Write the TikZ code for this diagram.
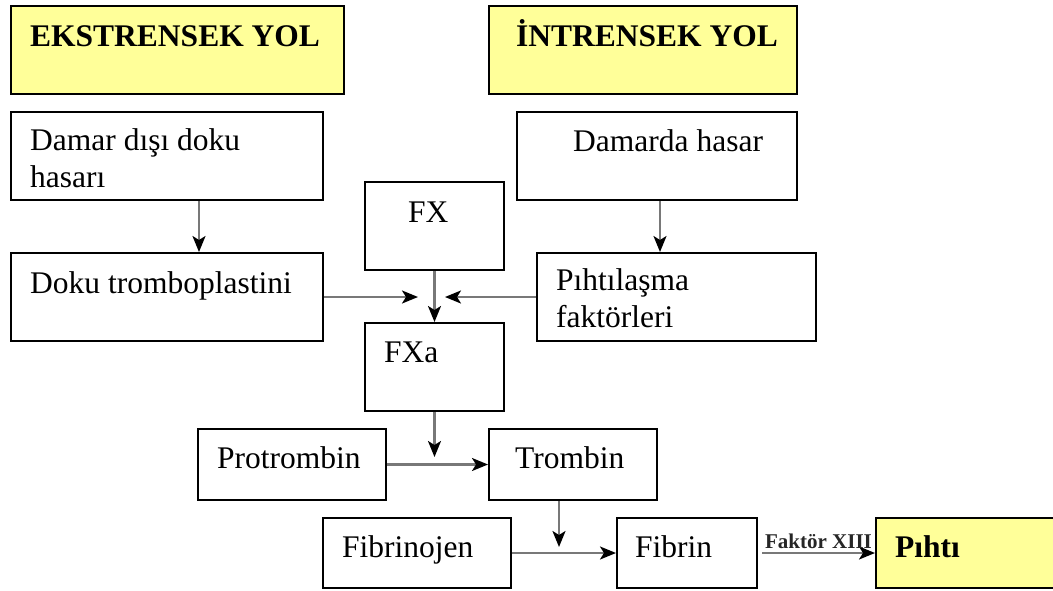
\documentclass[tikz,border=0pt]{standalone}
\usepackage{fontspec}
\setmainfont{Liberation Serif}
\usetikzlibrary{arrows.meta}
\definecolor{boxyellow}{RGB}{255,255,153}
\definecolor{linegray}{RGB}{120,120,120}
\tikzset{
  box/.style={draw=black, line width=2pt, rectangle, anchor=north west, inner sep=0pt},
  ybox/.style={box, fill=boxyellow},
  txt/.style={anchor=base west, inner sep=0pt, font=\fontsize{31.5}{37}\selectfont, align=left},
  ttl/.style={anchor=base west, inner sep=0pt, font=\fontsize{31.5}{36}\selectfont\bfseries},
  arr/.style={draw=linegray, line width=2.2pt, -{Stealth[length=16pt,width=13pt,inset=4pt,color=black]}},
}
\begin{document}
\begin{tikzpicture}[x=1pt,y=-1pt]
\useasboundingbox (0,0) rectangle (1053,590);
% boxes
\node[ybox, minimum width=333pt, minimum height=88pt] (ek) at (10,5) {};
\node[ybox, minimum width=308pt, minimum height=88pt] (in) at (488,5) {};
\node[box, minimum width=312pt, minimum height=88pt] (dd) at (10,111) {};
\node[box, minimum width=280pt, minimum height=88pt] (dh) at (516,111) {};
\node[box, minimum width=139pt, minimum height=88pt] (fx) at (364,181) {};
\node[box, minimum width=312pt, minimum height=88pt] (dt) at (10,252) {};
\node[box, minimum width=279pt, minimum height=88pt] (pf) at (536,252) {};
\node[box, minimum width=139pt, minimum height=88pt] (fxa) at (364,322) {};
\node[box, minimum width=188pt, minimum height=71pt] (pr) at (197,428) {};
\node[box, minimum width=168pt, minimum height=71pt] (tr) at (488,428) {};
\node[box, minimum width=188pt, minimum height=70pt] (fj) at (322,517) {};
\node[box, minimum width=140pt, minimum height=70pt] (fb) at (616,517) {};
\node[ybox, minimum width=190pt, minimum height=70pt] (ph) at (875,517) {};
% texts
\node[ttl] (ekt) at (30,46) {EKSTRENSEK YOL};
\node[ttl] (int) at (516,46) {İNTRENSEK YOL};
\node[txt] (ddt) at (30,187) {Damar dışı doku\\hasarı};
\node[txt] (dht) at (573,151) {Damarda hasar};
\node[txt] (fxt) at (408,222) {FX};
\node[txt] (dtt) at (30,293) {Doku tromboplastini};
\node[txt] (pft) at (556,327) {Pıhtılaşma\\faktörleri};
\node[txt] (fxat) at (384,362) {FXa};
\node[txt] (prt) at (217,468) {Protrombin};
\node[txt] (trt) at (515,468) {Trombin};
\node[txt] (fjt) at (342,557) {Fibrinojen};
\node[txt] (fbt) at (635,557) {Fibrin};
\node[ttl] (pht) at (895,557) {Pıhtı};
% helper coordinates
\coordinate (xa) at (199,0);
\coordinate (xb) at (660,0);
\coordinate (jl) at (418,0);
\coordinate (jr) at (445,0);
\coordinate (xc) at (559,547);
\coordinate (fxaend) at (0,457);
% connectors
\draw[arr] (dd.south -| xa) -- (dt.north -| xa);
\draw[arr] (dh.south -| xb) -- (pf.north -| xb);
\draw[arr] (dt.east) -- (dt.east -| jl);
\draw[arr] (pf.west) -- (pf.west -| jr);
\draw[arr] (fx.south) -- (fxa.north);
\draw[arr] (fxa.south) -- (fxa.south |- fxaend);
\draw[arr] (pr.east) -- (tr.west);
\draw[arr] (tr.south -| xc) -- (xc);
\draw[arr] (fj.east) -- (fb.west);
\draw[arr] ([xshift=4pt]fb.east) -- node[above=3pt, inner sep=0pt, font=\fontsize{21}{23}\selectfont\bfseries, text=black!85] (fxiii) {Faktör XIII} (ph.west |- fb.east);
\end{tikzpicture}
\end{document}
